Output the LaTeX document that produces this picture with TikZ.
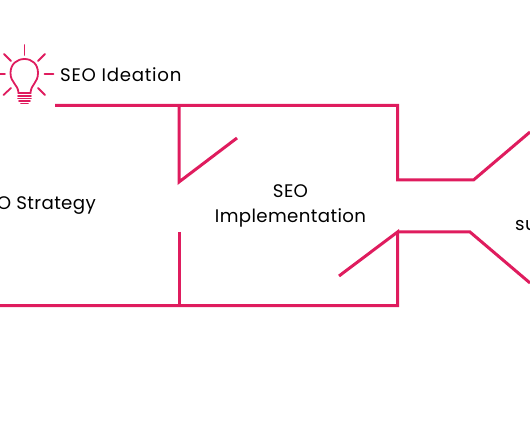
\documentclass[tikz,border=0pt]{standalone}
\usepackage{fontspec}
\setmainfont[LetterSpace=2]{Poppins}
\usepackage{xcolor}
\usetikzlibrary{positioning}
\definecolor{funnelpink}{HTML}{DF1C5E}
\tikzset{
    funnelline/.style={draw=funnelpink, line width=3bp, line join=miter},
    bulbline/.style={draw=funnelpink, line width=1.8bp, line cap=round},
    stagelabel/.style={text=black, font=\fontsize{18.2bp}{25bp}\selectfont, inner sep=0pt, align=center}
}
\begin{document}
\begin{tikzpicture}[x=1bp, y=-1bp]
        \useasboundingbox (0,0) rectangle (530,442);
        \clip (0,0) rectangle (530,442);

        % Labels of the stages
        \node[stagelabel, anchor=west] (ideation) at (60,74.5) {\addfontfeature{LetterSpace=4}SEO Ideation};
        \node[stagelabel, anchor=east] (strategy) at (96,206) {O Strategy};
        \node[stagelabel] (implementation) at (290.5,206) {SEO\\Implementation};
        \node[stagelabel, anchor=west] (success) at (515,226) {su};

        % Corners of the upper wall
        \coordinate (topstart) at (55,105.5);
        \coordinate (topdoor) at (179,105.5);
        \coordinate (topend) at (397.5,105.5);
        \coordinate (topneck) at (397.5,180);
        \coordinate (topflare) at (473.5,180);
        \coordinate (topout) at (530,132);
        \coordinate (doorhinge) at (179,182);
        \coordinate (doortip) at (237,138);

        % Corners of the lower wall
        \coordinate (lowstart) at (0,305.5);
        \coordinate (lowdoor) at (179,305.5);
        \coordinate (lowend) at (397.5,305.5);
        \coordinate (lowneck) at (397.5,232);
        \coordinate (lowflare) at (470,232);
        \coordinate (lowout) at (530,283);
        \coordinate (doorfoot) at (179,232);
        \coordinate (neckflap) at (339,276);

        % Upper wall
        \draw[funnelline] (topstart) -- (topend) -- (topneck) -- (topflare) -- (topout);
        \draw[funnelline] (topdoor) -- (doorhinge) -- (doortip);

        % Lower wall
        \draw[funnelline] (lowstart) -- (lowend) -- (lowneck) -- (neckflap);
        \draw[funnelline] (lowneck) -- (lowflare) -- (lowout);
        \draw[funnelline] (doorfoot) -- (lowdoor);

        % Light bulb
        \draw[bulbline] (18.5,93) .. controls (18,84) and (10.5,83) .. (10.5,73)
            .. controls (10.5,64) and (17,59) .. (24.5,59)
            .. controls (32,59) and (38,64) .. (38,73)
            .. controls (38,83) and (31,84) .. (30.5,93) -- cycle;
        \foreach \y/\w in {96/6.5, 98.5/6.5, 101/5.5, 103.5/3.5}
            \draw[bulbline] (24.5-\w,\y) -- (24.5+\w,\y);

        % Rays of the bulb
        \foreach \xa/\ya/\xb/\yb in {24.5/45/24.5/55, 44.5/74/53.5/74, 0/74/5/74,
            4/54/11/61, 38/61/45/54, 3.5/95/11/88, 38/88/45/95}
            \draw[bulbline] (\xa,\ya) -- (\xb,\yb);
    \end{tikzpicture}
\end{document}
